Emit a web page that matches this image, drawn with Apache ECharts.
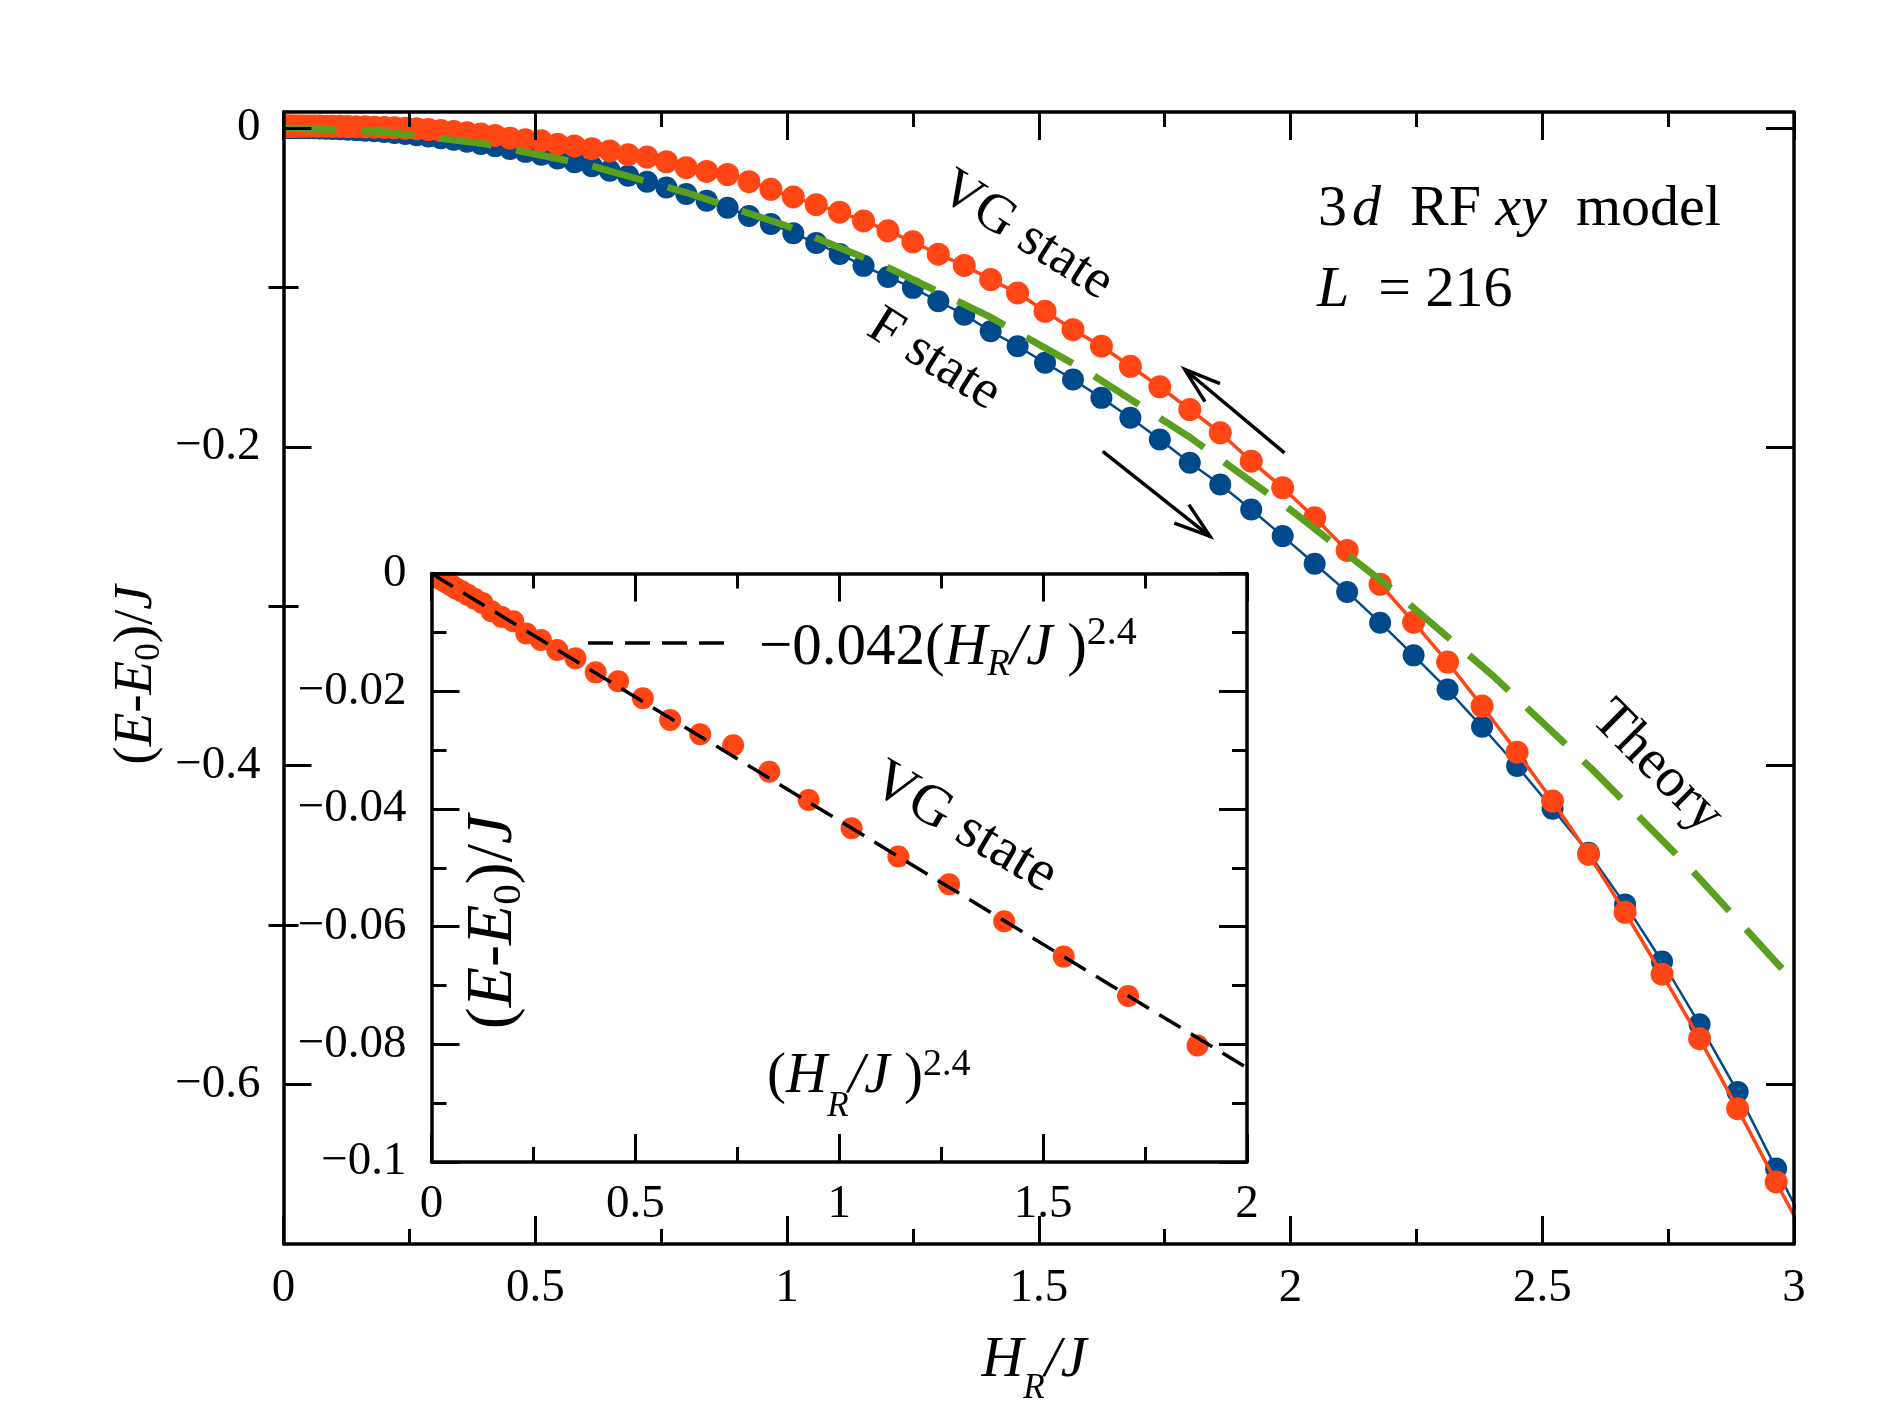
<!DOCTYPE html>
<html>
<head>
<meta charset="utf-8">
<script src="https://cdn.jsdelivr.net/npm/echarts@6/dist/echarts.min.js"></script>
<style>html,body{margin:0;padding:0;background:#fff}#c{width:1889px;height:1417px}</style>
</head>
<body>
<div id="c"></div>
<script>
// ---------------- data ----------------
// field values H_R/J of the simulation points (main panel)
const H = [0, 0.0005, 0.002, 0.0045, 0.008, 0.0125, 0.018, 0.0245, 0.032, 0.0405, 0.05, 0.0605, 0.072, 0.0845, 0.098, 0.1125, 0.128, 0.1445, 0.162, 0.1805, 0.2, 0.2205, 0.242, 0.2645, 0.288, 0.3125, 0.338, 0.3645, 0.392, 0.4205, 0.45, 0.4805, 0.512, 0.5445, 0.578, 0.6125, 0.648, 0.6845, 0.722, 0.7605, 0.8, 0.8405, 0.882, 0.9245, 0.968, 1.0125, 1.058, 1.1045, 1.152, 1.2005, 1.25, 1.3005, 1.352, 1.4045, 1.458, 1.5125, 1.568, 1.6245, 1.682, 1.7405, 1.8, 1.8605, 1.922, 1.9845, 2.048, 2.1125, 2.178, 2.2445, 2.312, 2.3805, 2.45, 2.5205, 2.592, 2.6645, 2.738, 2.8125, 2.888, 2.9645, 3.042];
// F state (blue)
const E_F = [0, 0, 0, 0, 0,
  -0.00001, -0.00002, -0.00004, -0.00007, -0.00011,
  -0.00016, -0.00024, -0.00034, -0.00046, -0.00062,
  -0.00082, -0.00106, -0.00136, -0.0017, -0.0021,
  -0.0026, -0.0032, -0.0038, -0.0046, -0.0054,
  -0.0064, -0.0074, -0.0087, -0.0100, -0.0115,
  -0.0132, -0.0150, -0.0168, -0.0192, -0.0215,
  -0.0240, -0.0268, -0.0300, -0.0337, -0.0373,
  -0.0414, -0.0456, -0.0500, -0.0552, -0.0603,
  -0.0660, -0.0722, -0.0790, -0.0865, -0.0935,
  -0.1003, -0.1087, -0.1171, -0.1275, -0.1369,
  -0.1473, -0.1578, -0.1693, -0.1818, -0.1954,
  -0.2100, -0.2236, -0.2393, -0.2560, -0.2733,
  -0.2910, -0.3103, -0.3308, -0.3522, -0.3756,
  -0.4002, -0.4270, -0.4546, -0.4870, -0.5228,
  -0.5622, -0.6046, -0.6527, -0.7010];
// VG state (red)
const E_VG = [0.0012, 0.0012, 0.0012, 0.0012, 0.0012, 0.0012, 0.0012, 0.0012, 0.0012, 0.0012,
  0.0012, 0.0012, 0.0012, 0.0011, 0.0010,
  0.0010, 0.0009, 0.0008, 0.0007, 0.0005,
  0.0003, 0.0001, -0.0002, -0.0005, -0.0010,
  -0.0016, -0.0022, -0.0030, -0.0038, -0.0047,
  -0.0064, -0.0074, -0.0081, -0.0102, -0.0113,
  -0.0130, -0.0144, -0.0168, -0.0183, -0.0212,
  -0.0249, -0.0273, -0.0292, -0.0337, -0.0385,
  -0.0433, -0.0481, -0.0528, -0.0583, -0.0645,
  -0.0714, -0.0792, -0.0862, -0.0951, -0.1035,
  -0.1150, -0.1265, -0.1369, -0.1495, -0.1624,
  -0.1766, -0.1912, -0.2090, -0.2257, -0.2445,
  -0.2650, -0.2862, -0.3100, -0.3350, -0.3626,
  -0.3915, -0.4222, -0.4556, -0.4920, -0.5308,
  -0.5712, -0.6151, -0.6611, -0.7070];
// Theory (green dashed)
const H_theory = [0, 0.2, 0.4, 0.6, 0.8, 1.0, 1.2, 1.4, 1.6, 1.8, 2.0, 2.2, 2.4, 2.6, 2.8, 3.0];
const E_theory = [0, -0.0024, -0.0100, -0.0228, -0.0405, -0.0615, -0.0875, -0.1180, -0.1535, -0.1940, -0.2395, -0.2890, -0.3430, -0.4025, -0.4665, -0.5355];
// inset: (H_R/J)^2.4 and VG energies
const X_inset = [0, 0, 0.0000003, 0.0000023, 0.0000093, 0.000027, 0.000065, 0.000136, 0.000259, 0.000455, 0.000754, 0.00119, 0.00181, 0.00266, 0.00379, 0.00528, 0.0072, 0.00963, 0.01267, 0.01644, 0.021, 0.0266, 0.0332, 0.0411, 0.0504, 0.0613, 0.074, 0.0887, 0.1057, 0.125, 0.1471, 0.1722, 0.2006, 0.2325, 0.2683, 0.3084, 0.353, 0.4026, 0.4577, 0.5184, 0.5854, 0.659, 0.7398, 0.8283, 0.9249, 1.0303, 1.1449, 1.2694, 1.4044, 1.5505, 1.7083, 1.8787];
const E_inset = [0, 0, 0, 0, 0, 0, 0, -0.00001, -0.00001, -0.00002,
  -0.00003, -0.00005, -0.00008, -0.00011, -0.00016,
  -0.00022, -0.0003, -0.0004, -0.00053, -0.0007,
  -0.00088, -0.0011, -0.0014, -0.0017, -0.0021,
  -0.0026, -0.0030, -0.0036, -0.0043, -0.0050,
  -0.0064, -0.0074, -0.0081, -0.0102, -0.0113,
  -0.0130, -0.0144, -0.0168, -0.0183, -0.0212,
  -0.0249, -0.0273, -0.0292, -0.0337, -0.0385,
  -0.0433, -0.0481, -0.0528, -0.0591, -0.0651,
  -0.0718, -0.0802];
// fit line -0.042 (H_R/J)^2.4 (end points)
const X_fit = [0, 2];
const E_fit = [0, -0.084];
// tick values
const yMajorMain = [0, -0.2, -0.4, -0.6];
const yMinorMain = [-0.1, -0.3, -0.5];
// arrows (data coordinates of tail and tip)
const arrowUp = { tail: [1.988, -0.2038], tip: [1.790, -0.1515] };
const arrowDown = { tail: [1.627, -0.2028], tip: [1.840, -0.2561] };

// ---------------- styling ----------------
const FONT = "'Liberation Serif', 'Times New Roman', Times, serif";
const RED = '#ff4614', BLUE = '#004a8c', GREEN = '#5aa01e';
const BLACK = '#000';
const fmt = v => (v === 0 ? '0' : String(+(+v).toFixed(3)).replace('-', '\u2212'));
const tickLine = { color: BLACK, width: 3 };
const axLine = { show: true, onZero: false, lineStyle: { color: BLACK, width: 3.5 } };
const lbl = (margin) => ({ show: true, margin, fontSize: 47, fontFamily: FONT, color: BLACK, formatter: fmt });

function xAx(grid, pos, min, max, showLabel, margin) {
  return {
    type: 'value', gridIndex: grid, position: pos, min, max, interval: 0.5, z: 10,
    axisLine: axLine,
    axisTick: { show: true, inside: true, length: 28, lineStyle: tickLine },
    minorTick: { show: true, splitNumber: 2, length: 15, lineStyle: tickLine },
    axisLabel: showLabel ? lbl(margin) : { show: false },
    splitLine: { show: false }, minorSplitLine: { show: false }
  };
}
function yMainMajor(pos, showLabel) {
  return {
    type: 'value', gridIndex: 0, position: pos, min: -0.7, max: 0.01, z: 10,
    axisLine: axLine,
    axisTick: { show: true, inside: true, length: 28, customValues: yMajorMain, lineStyle: tickLine },
    axisLabel: showLabel ? Object.assign(lbl(23), { customValues: yMajorMain }) : { show: false },
    splitLine: { show: false }
  };
}
function yMainMinor(pos) {
  return {
    type: 'value', gridIndex: 0, position: pos, min: -0.7, max: 0.01, z: 10,
    axisLine: { show: false },
    axisTick: { show: true, inside: true, length: 15, customValues: yMinorMain, lineStyle: tickLine },
    axisLabel: { show: false },
    splitLine: { show: false }
  };
}
function yInset(pos, showLabel) {
  return {
    type: 'value', gridIndex: 1, position: pos, min: -0.1, max: 0, interval: 0.02, z: 10,
    axisLine: axLine,
    axisTick: { show: true, inside: true, length: 28, lineStyle: tickLine },
    minorTick: { show: true, splitNumber: 2, length: 15, lineStyle: tickLine },
    axisLabel: showLabel ? lbl(25) : { show: false },
    splitLine: { show: false }, minorSplitLine: { show: false }
  };
}

const zip = (a, b) => a.map((v, i) => [v, b[i]]);

const chart = echarts.init(document.getElementById('c'), null, { renderer: 'canvas' });
chart.setOption({
  animation: false,
  backgroundColor: '#fff',
  grid: [
    { left: 283.5, top: 112, width: 1510.5, height: 1132, show: false, containLabel: false, outerBoundsMode: 'none' },
    { left: 431.5, top: 573.5, width: 815.5, height: 588.5, show: true, backgroundColor: '#fff', borderWidth: 0, containLabel: false, outerBoundsMode: 'none' }
  ],
  xAxis: [
    xAx(0, 'bottom', 0, 3, true, 21),
    xAx(0, 'top', 0, 3, false),
    xAx(1, 'bottom', 0, 2, true, 19),
    xAx(1, 'top', 0, 2, false)
  ],
  yAxis: [
    yMainMajor('left', true),
    yMainMinor('left'),
    yMainMajor('right', false),
    yMainMinor('right'),
    yInset('left', true),
    yInset('right', false)
  ],
  series: [
    { type: 'line', name: 'F state', xAxisIndex: 0, yAxisIndex: 0, data: zip(H, E_F),
      symbol: 'circle', symbolSize: 22, showSymbol: true, z: 2,
      lineStyle: { color: BLUE, width: 2.5 }, itemStyle: { color: BLUE, opacity: 1 } },
    { type: 'line', name: 'VG state', xAxisIndex: 0, yAxisIndex: 0, data: zip(H, E_VG),
      symbol: 'circle', symbolSize: 23, showSymbol: true, z: 3,
      lineStyle: { color: RED, width: 3.5 }, itemStyle: { color: RED, opacity: 1 } },
    { type: 'line', name: 'Theory', xAxisIndex: 0, yAxisIndex: 0, data: zip(H_theory, E_theory),
      showSymbol: false, symbol: 'none', z: 4,
      lineStyle: { color: GREEN, width: 7, type: [53, 25] } },
    { type: 'scatter', name: 'VG inset', xAxisIndex: 2, yAxisIndex: 4, data: zip(X_inset, E_inset),
      symbol: 'circle', symbolSize: 22, z: 5, itemStyle: { color: RED, opacity: 1 } },
    { type: 'line', name: 'fit', xAxisIndex: 2, yAxisIndex: 4, data: zip(X_fit, E_fit),
      showSymbol: false, symbol: 'none', z: 6,
      lineStyle: { color: BLACK, width: 3.5, type: [25, 12] } }
  ]
});

// ---------------- annotations ----------------
function rich(size, subSize, subShift, supSize, supShift) {
  const base = { fontFamily: FONT, fill: BLACK, color: BLACK };
  return {
    n: Object.assign({ fontSize: size }, base),
    i: Object.assign({ fontSize: size, fontStyle: 'italic' }, base),
    d: Object.assign({ fontSize: size, fontStyle: 'italic', padding: [0, 0, 0, 5] }, base),
    s: Object.assign({ fontSize: subSize, fontStyle: 'italic', padding: [2 * subShift, 0, 0, 0] }, base),
    z: Object.assign({ fontSize: subSize, padding: [2 * subShift, 0, 0, 0] }, base),
    p: Object.assign({ fontSize: supSize, padding: [0, 0, 2 * supShift, 0] }, base)
  };
}
function txt(x, y, text, r, rotDeg, align) {
  return {
    type: 'text', x, y, rotation: (rotDeg || 0) * Math.PI / 180, z: 30,
    style: { text, rich: r, align: align || 'left', verticalAlign: 'middle', fill: BLACK, fontFamily: FONT }
  };
}
function arrow(a) {
  const p0 = chart.convertToPixel({ xAxisIndex: 0, yAxisIndex: 0 }, a.tail);
  const p1 = chart.convertToPixel({ xAxisIndex: 0, yAxisIndex: 0 }, a.tip);
  const ang = Math.atan2(p0[1] - p1[1], p0[0] - p1[0]);
  const L = 38, w = 18 * Math.PI / 180;
  const h1 = [p1[0] + L * Math.cos(ang + w), p1[1] + L * Math.sin(ang + w)];
  const h2 = [p1[0] + L * Math.cos(ang - w), p1[1] + L * Math.sin(ang - w)];
  return [
    { type: 'line', z: 30, shape: { x1: p0[0], y1: p0[1], x2: p1[0], y2: p1[1] }, style: { stroke: BLACK, lineWidth: 3.5 } },
    { type: 'polyline', z: 30, shape: { points: [h1, p1, h2] }, style: { stroke: BLACK, lineWidth: 3.5, fill: null } }
  ];
}

const R58 = rich(58, 35, 15, 34, 12);
const R55 = rich(55, 35, 15, 34, 12);
const graphics = [
  // covers for marker overflow outside axes corners
  { type: 'rect', z: 8, shape: { x: 262, y: 98, width: 20, height: 52 }, style: { fill: '#fff' } },
  { type: 'rect', z: 8, shape: { x: 416, y: 552, width: 14, height: 50 }, style: { fill: '#fff' } },
  { type: 'rect', z: 8, shape: { x: 416, y: 552, width: 70, height: 20 }, style: { fill: '#fff' } },

  txt(1318, 210, '{n|3}{d|d}{n|  RF }{i|xy}{n|  model}', R58),
  txt(1317, 291, '{i|L}{n|  = 216}', R58),
  txt(1026, 236, '{n|VG state}', R55, -32.5, 'center'),
  txt(934, 360, '{n|F state}', R55, -32, 'center'),
  txt(1657, 767, '{n|Theory}', rich(56, 35, 15, 34, 12), -45, 'center'),
  txt(964, 828, '{n|VG state}', rich(58, 35, 15, 34, 12), -30.5, 'center'),
  txt(759, 648, '{n|\u22120.042(}{i|H}{s|R}{i|/J}{n| )}{p|2.4}', rich(59, 37, 17, 40, 15)),
  txt(767, 1077, '{n|(}{i|H}{s|R}{i|/J}{n| )}{p|2.4}', rich(57, 35, 30, 38, 12)),
  txt(1034, 1361, '{i|H}{s|R}{i|/J}', rich(58, 35, 28, 34, 12), 0, 'center'),
  txt(137, 675, '{n|(}{i|E}{n|-}{i|E}{z|0}{n|)/}{i|J}', rich(55, 35, 13, 34, 12), 90, 'center'),
  txt(494, 922, '{n|(}{i|E}{n|-}{i|E}{z|0}{n|)/}{i|J}', rich(66, 41, 15, 34, 12), 90, 'center'),

  // legend sample of the dashed fit line
  { type: 'line', z: 30, shape: { x1: 588, y1: 643, x2: 724, y2: 643 }, style: { stroke: BLACK, lineWidth: 3.5, lineDash: [25, 12] } }
].concat(arrow(arrowUp), arrow(arrowDown));

chart.setOption({ graphic: graphics });
</script>
</body>
</html>
